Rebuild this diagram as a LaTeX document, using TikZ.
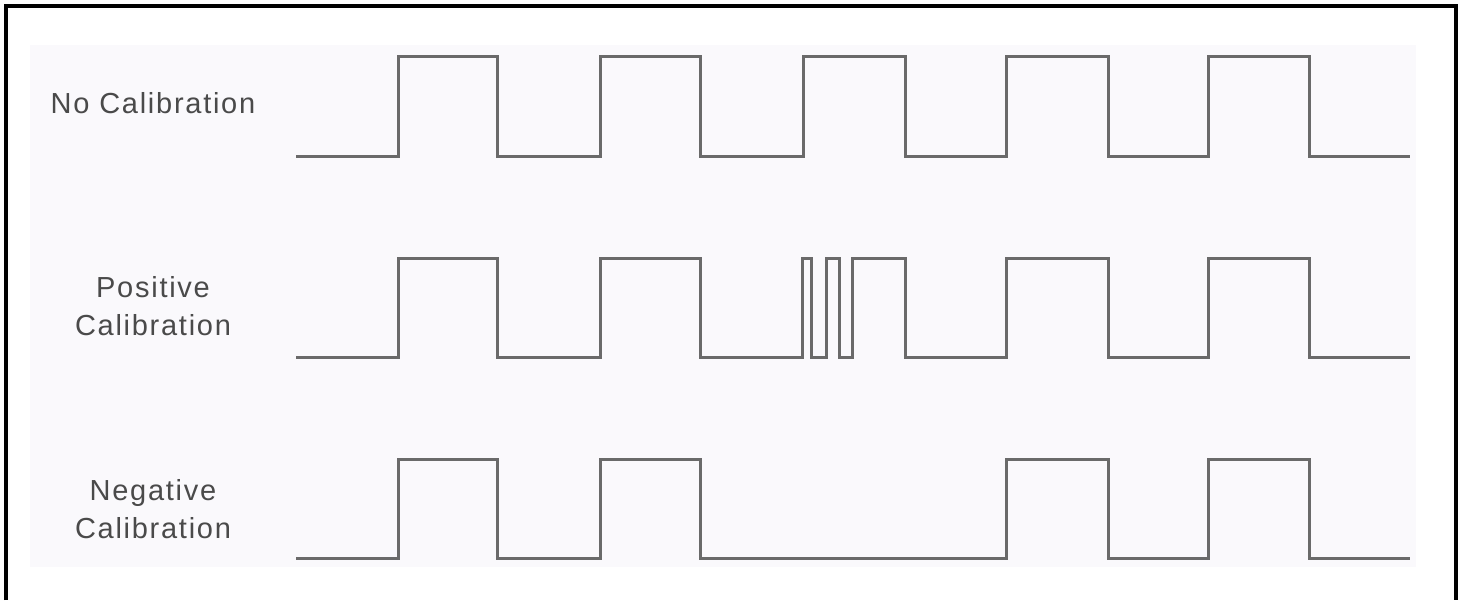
\documentclass[tikz,border=0pt]{standalone}
\usepackage{fontspec}
\setmainfont{Liberation Sans}[LetterSpace=6]
\definecolor{trace}{HTML}{6A6A6A}
\definecolor{panel}{HTML}{FAF9FC}
\definecolor{labelgray}{HTML}{4A4A4A}

\begin{document}
\begin{tikzpicture}[
        x=0.02cm, y=-0.02cm,
        wave/.style={draw=trace, line width=1.7pt, line join=miter},
        sigtext/.style={font=\fontsize{16.5}{21.5}\selectfont, text=labelgray, align=center},
        frameline/.style={draw=black, line width=2.2pt}
    ]
        \useasboundingbox (0,0) rectangle (1462,600);
        \fill[white] (0,0) rectangle (1462,600);
        \fill[panel] (30,45) rectangle (1416,567);
        \draw[frameline] (6,600) -- (6,6) -- (1456,6) -- (1456,600);

        \node[sigtext] (nocal) at (153,103) {No Calibration};
        \node[sigtext] (poscal) at (153,306) {Positive\\Calibration};
        \node[sigtext] (negcal) at (153,509) {Negative\\Calibration};

        % no calibration
        \draw[wave] (296,156)
            \foreach \a/\b in {398/497,600/700,803/905,1006/1108,1208/1309}
            { -- (\a,156) -- (\a,56) -- (\b,56) -- (\b,156) } -- (1410,156);
        % positive calibration
        \draw[wave] (296,357)
            \foreach \a/\b in {398/497,600/700,802/811,826/839,852/905,1006/1108,1208/1309}
            { -- (\a,357) -- (\a,258) -- (\b,258) -- (\b,357) } -- (1410,357);
        % negative calibration
        \draw[wave] (296,558)
            \foreach \a/\b in {398/497,600/700,1006/1108,1208/1309}
            { -- (\a,558) -- (\a,459) -- (\b,459) -- (\b,558) } -- (1410,558);
    \end{tikzpicture}
\end{document}
